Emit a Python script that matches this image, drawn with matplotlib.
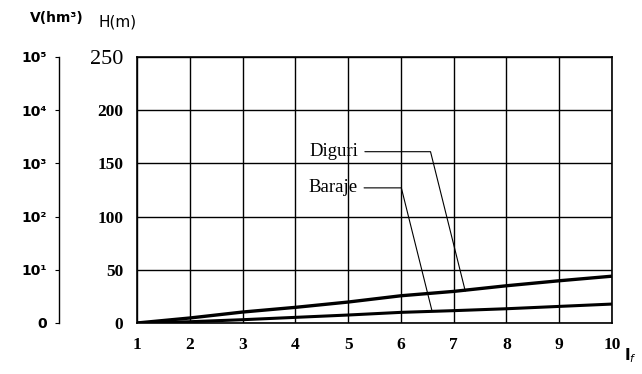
import matplotlib.pyplot as plt

If_vals = [1, 2, 3, 4, 5, 6, 7, 8, 9, 10]
diguri_H = [0, 4.7, 10.3, 14.7, 19.7, 25.6, 29.7, 35, 39.7, 44]
baraje_H = [0, 1.2, 3.1, 5.3, 7.5, 10, 11.6, 13.4, 15.6, 17.8]
h_ticks = [0, 50, 100, 150, 200, 250]
v_labels = ["0", "10¹", "10²", "10³", "10⁴", "10⁵"]

fig = plt.figure(figsize=(6.42, 3.74), dpi=100)
serif = "Liberation Serif"
sans = "DejaVu Sans"

ax = fig.add_axes([137 / 642, 51 / 374, 475 / 642, 266 / 374])
ax.plot(If_vals, diguri_H, color="black", lw=2.4, solid_capstyle="butt")
ax.plot(If_vals, baraje_H, color="black", lw=2.2, solid_capstyle="butt")
ax.set_xlim(1, 10)
ax.set_ylim(0, 250)
ax.set_xticks(If_vals)
ax.set_yticks(h_ticks)
ax.grid(True, color="black", lw=1.0)
ax.tick_params(length=0, pad=10)
for sp in ax.spines.values():
    sp.set_linewidth(1.2)
ax.set_xticklabels([str(v) for v in If_vals], fontfamily=serif,
                   fontweight="bold", fontsize=12.5)
ylabs = ax.set_yticklabels([str(v) for v in h_ticks], fontfamily=serif,
                           fontweight="bold", fontsize=12.5)
ylabs[-1].set_fontweight("normal")
ylabs[-1].set_fontsize(16)

# leader labels
ax.annotate("Diguri", xy=(7.22, 30), xytext=(4.26, 161), fontfamily=serif,
            fontsize=13.5, va="center",
            arrowprops=dict(arrowstyle="-", lw=0.8, color="black", shrinkA=3,
                            shrinkB=0,
                            connectionstyle="angle,angleA=0,angleB=104,rad=0"))
ax.annotate("Baraje", xy=(6.59, 11.3), xytext=(4.24, 127), fontfamily=serif,
            fontsize=13.5, va="center",
            arrowprops=dict(arrowstyle="-", lw=0.8, color="black", shrinkA=3,
                            shrinkB=0,
                            connectionstyle="angle,angleA=0,angleB=104,rad=0"))

# volume scale on the far left
ax2 = fig.add_axes([59 / 642, 51 / 374, 0.001, 266 / 374])
ax2.set_ylim(0, 250)
ax2.set_xticks([])
for s in ["top", "right", "bottom"]:
    ax2.spines[s].set_visible(False)
ax2.spines["left"].set_linewidth(1.0)
ax2.set_yticks(h_ticks)
ax2.set_yticklabels(v_labels, fontfamily=sans, fontweight="bold", fontsize=10)
ax2.tick_params(axis="y", length=3, pad=6)

fig.text(30 / 642, 1 - 18 / 374, "V(hm³)", fontfamily=sans, fontweight="bold",
         fontsize=10, va="center")
fig.text(98 / 642, 1 - 22 / 374, "H(m)", fontfamily=sans, fontsize=11,
         va="center")
fig.text(624 / 642, 1 - 356 / 374, "I$_f$", fontfamily=sans, fontweight="bold",
         fontsize=11, va="center")

fig.savefig("out.png", dpi=100)
